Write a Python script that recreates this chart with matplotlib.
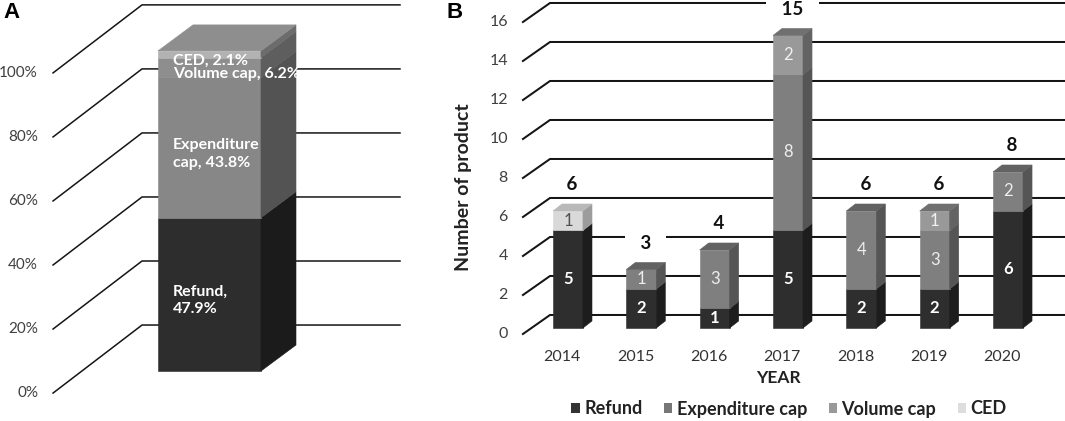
import matplotlib
matplotlib.use('Agg')
import matplotlib.pyplot as plt
from matplotlib.patches import Polygon, Patch

plt.rcParams['font.family'] = ['Lato', 'DejaVu Sans']

# ---- panel A : share of all products ----
share_names = ['Refund', 'Expenditure cap', 'Volume cap', 'CED']
share_values = [47.9, 43.8, 6.2, 2.1]
share_text = ['Refund,\n47.9%', 'Expenditure\ncap, 43.8%', 'Volume cap, 6.2%', 'CED, 2.1%']
pct_ticks = [0, 20, 40, 60, 80, 100]

# ---- panel B : number of product per year ----
years = ['2014', '2015', '2016', '2017', '2018', '2019', '2020']
refund = [5, 2, 1, 5, 2, 2, 6]
expenditure = [0, 1, 3, 8, 4, 3, 2]
volume = [0, 0, 0, 2, 0, 1, 0]
ced = [1, 0, 0, 0, 0, 0, 0]
count_ticks = [0, 2, 4, 6, 8, 10, 12, 14, 16]

# front / side / top shades per series
colA = {'Refund': ('#2d2d2d', '#1b1b1b', '#3a3a3a'),
        'Expenditure cap': ('#878787', '#535353', '#8a8a8a'),
        'Volume cap': ('#8e8e8e', '#5e5e5e', '#8c8c8c'),
        'CED': ('#b2b2b2', '#6c6c6c', '#8e8e8e')}
colB = {'Refund': ('#2e2e2e', '#1d1d1d', '#3c3c3c'),
        'Expenditure cap': ('#7f7f7f', '#555555', '#626262'),
        'Volume cap': ('#999999', '#636363', '#707070'),
        'CED': ('#d9d9d9', '#9c9c9c', '#b9b9b9')}
txtB = {'Refund': ('white', 'bold'), 'Expenditure cap': ('#eeeeee', 'normal'),
        'Volume cap': ('#f2f2f2', 'normal'), 'CED': ('#505050', 'normal')}
legend_cols = ['#333333', '#777777', '#999999', '#dddddd']

W, H = 1065, 421
fig = plt.figure(figsize=(W / 100, H / 100), dpi=100)


def box(ax, xc, w, y0, y1, dx, dy, cols, top):
    front, side, topc = cols
    xl, xr = xc - w / 2, xc + w / 2
    kw = dict(closed=True, lw=0.4, zorder=2)
    ax.add_patch(Polygon([(xl, y0), (xr, y0), (xr, y1), (xl, y1)], fc=front, ec=front, **kw))
    ax.add_patch(Polygon([(xr, y0), (xr + dx, y0 + dy), (xr + dx, y1 + dy), (xr, y1)],
                         fc=side, ec=side, **kw))
    if top:
        ax.add_patch(Polygon([(xl, y1), (xr, y1), (xr + dx, y1 + dy), (xl + dx, y1 + dy)],
                             fc=topc, ec=topc, **kw))


def walls(ax, ticks, fx, fy, bx, by, xend, lw):
    for t in ticks:
        ax.plot([fx, bx, xend], [t + fy, t + by, t + by], color='#151515', lw=lw,
                zorder=1, clip_on=False, solid_joinstyle='miter')


# ================= A =================
axA = fig.add_axes([0, 0, 420 / W, 1])
axA.set_axis_off()
axA.set_xlim(-2.034, 2.044)
axA.set_ylim(-15.6, 115.9)

walls(axA, pct_ticks, -1.519, -6.875, -0.655, 14.375, 1.85, 1.1)
for t in pct_ticks:
    axA.text(-1.665, t - 6.875, f'{t}%', ha='right', va='center', fontsize=11, color='#404040')

base = 0
for k, (name, v) in enumerate(zip(share_names, share_values)):
    box(axA, 0, 1.0, base, base + v, 0.34, 8.125, colA[name], k == len(share_values) - 1)
    axA.text(-0.355, base + v / 2 - 2, share_text[k], ha='left', va='center', fontsize=11.5,
             color='white', fontweight='bold', linespacing=1.3, zorder=3)
    base += v

fig.text(3 / W, 1 - 2 / H, 'A', ha='left', va='top', fontsize=16, fontweight='bold',
         family='Liberation Sans')

# ================= B =================
axB = fig.add_axes([440 / W, 0, 625 / W, 1])
axB.set_axis_off()
axB.set_xlim(-1.745, 6.777)
axB.set_ylim(-4.77, 16.82)

walls(axB, count_ticks, -0.614, -0.308, -0.245, 0.667, 6.78, 1.45)
for t in count_ticks:
    axB.text(-0.818, t - 0.308, str(t), ha='right', va='center', fontsize=11.5, color='#404040')

series = [('Refund', refund), ('Expenditure cap', expenditure), ('Volume cap', volume), ('CED', ced)]
for i, yr in enumerate(years):
    segs = [(n, vals[i]) for n, vals in series if vals[i] > 0]
    base = 0
    for k, (name, v) in enumerate(segs):
        box(axB, i, 0.409, base, base + v, 0.123, 0.359, colB[name], k == len(segs) - 1)
        c, fw = txtB[name]
        axB.text(i, base + v / 2, str(v), ha='center', va='center', fontsize=12,
                 color=c, fontweight=fw, zorder=3)
        base += v
    axB.text(i + 0.06, base + 1.35, f'   {base}   ', ha='center', va='center', fontsize=13.5,
             fontweight='bold', color='#111111', zorder=3,
             bbox=dict(boxstyle='square,pad=0.1', fc='white', ec='none'))
    axB.text(i - 0.08, -1.49, yr, ha='center', va='center', fontsize=11.5, color='#333333')

fig.text(1 - 287 / W, 1 - 378 / H, 'YEAR', ha='center', va='center', fontsize=12.5,
         fontweight='bold', color='#222222')
fig.text(463 / W, 1 - 187 / H, 'Number of product', ha='center', va='center', rotation=90,
         fontsize=14, fontweight='bold', color='#222222')
fig.text(446 / W, 1 - 2 / H, 'B', ha='left', va='top', fontsize=16, fontweight='bold',
         family='Liberation Sans')

handles = [Patch(fc=c, ec='none', label=n) for n, c in zip(share_names, legend_cols)]
leg = fig.legend(handles=handles, loc='center', bbox_to_anchor=(789 / W, 1 - 409 / H), ncol=4,
                 frameon=False, handlelength=0.45, handleheight=0.45, handletextpad=0.25,
                 columnspacing=1.2, prop=dict(size=13, weight='bold'))
for t in leg.get_texts():
    t.set_color('#222222')

fig.savefig('out.png', dpi=100)
